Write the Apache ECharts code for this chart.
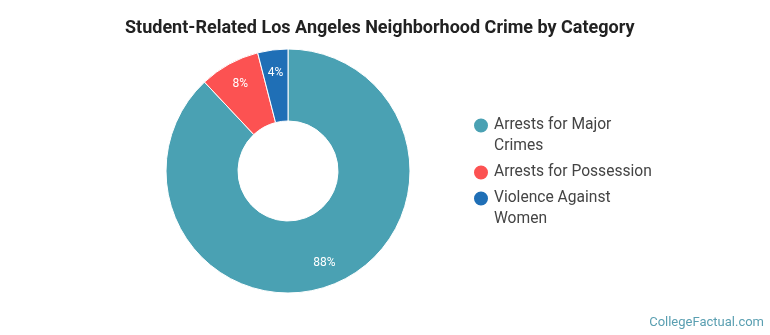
<!DOCTYPE html>
<html>
<head>
<meta charset="utf-8">
<script src="https://cdn.jsdelivr.net/npm/echarts@6/dist/echarts.min.js"></script>
<style>
  html, body { margin: 0; padding: 0; background: #fff; }
  #main { width: 770px; height: 335px; }
</style>
</head>
<body>
<div id="main"></div>
<script>
var categories = ['Arrests for Major Crimes', 'Arrests for Possession', 'Violence Against Women'];
var legendLabels = ['Arrests for Major\nCrimes', 'Arrests for Possession', 'Violence Against\nWomen'];
var values = [88, 8, 4];
var colors = ['#4aa1b3', '#fc5252', '#1f6fb6'];

var myChart = echarts.init(document.getElementById('main'));

var pieData = categories.map(function (name, i) {
  return { name: name, value: values[i], itemStyle: { color: colors[i] } };
});

// one legend per item so the wrapped names line up like the original
// (leading empty line keeps the first text line level with the dot)
var legendTops = [89, 157, 162];
var legends = categories.map(function (name, i) {
  var label = legendLabels[i];
  if (label.indexOf('\n') >= 0) label = '\n' + label;
  return {
    data: [name],
    orient: 'vertical',
    left: 467,
    top: legendTops[i],
    icon: 'circle',
    itemWidth: 16,
    itemHeight: 16,
    selectedMode: false,
    formatter: function () { return label; },
    textStyle: {
      fontFamily: 'Roboto',
      fontSize: 15.6,
      color: '#444',
      lineHeight: 21
    }
  };
});

var option = {
  animation: false,
  title: {
    text: 'Student-Related Los Angeles Neighborhood Crime by Category',
    left: 120,
    top: 14,
    textStyle: {
      fontFamily: 'Roboto',
      fontWeight: 'bold',
      fontSize: 18,
      color: '#222'
    }
  },
  legend: legends,
  graphic: [{
    type: 'text',
    right: 6,
    bottom: 6,
    style: {
      text: 'CollegeFactual.com',
      font: '13px Roboto',
      fill: '#5a9fb1'
    }
  }],
  series: [
    {
      name: 'crime',
      type: 'pie',
      center: [288, 171],
      radius: [50, 122],
      startAngle: 90,
      clockwise: true,
      avoidLabelOverlap: false,
      itemStyle: { borderColor: '#fff', borderWidth: 1 },
      label: { show: false },
      labelLine: { show: false },
      emphasis: { disabled: true },
      data: pieData
    },
    {
      // transparent ring, only used to place the percent labels
      name: 'labels',
      type: 'pie',
      center: [288, 171],
      radius: [70, 122],
      startAngle: 90,
      clockwise: true,
      silent: true,
      avoidLabelOverlap: false,
      itemStyle: { color: 'rgba(0,0,0,0)', borderWidth: 0 },
      label: {
        show: true,
        position: 'inside',
        formatter: '{c}%',
        fontFamily: 'Roboto',
        fontSize: 12,
        color: '#fff'
      },
      labelLine: { show: false },
      emphasis: { disabled: true },
      data: categories.map(function (name, i) {
        return { name: name, value: values[i] };
      })
    }
  ]
};

myChart.setOption(option);
</script>
</body>
</html>
